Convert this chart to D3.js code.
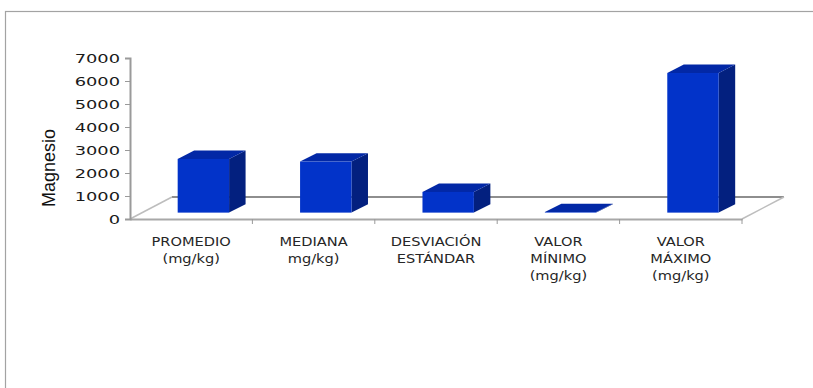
<!DOCTYPE html>
<html>
<head>
<meta charset="utf-8">
<script src="https://cdn.jsdelivr.net/npm/d3@7"></script>
<style>
  html, body { margin: 0; padding: 0; background: #fff; }
  svg { display: block; }
</style>
</head>
<body>
<svg id="chart" width="813" height="388"></svg>
<script>
// Magnesium summary statistics (mg/kg)
const categories = [
  "PROMEDIO\n(mg/kg)",
  "MEDIANA\nmg/kg)",
  "DESVIACIÓN\nESTÁNDAR",
  "VALOR\nMÍNIMO\n(mg/kg)",
  "VALOR\nMÁXIMO\n(mg/kg)"
];
const values = [2335, 2220, 900, 25, 6070];
const yTicks = [0, 1000, 2000, 3000, 4000, 5000, 6000, 7000];
const yTitle = "Magnesio";

const svg = d3.select("#chart");

// outer frame
svg.append("rect")
  .attr("x", 5.5).attr("y", 11.5)
  .attr("width", 840).attr("height", 400)
  .attr("fill", "none").attr("stroke", "#a3a3a3").attr("stroke-width", 1.2);

// plot geometry (oblique 3D projection)
const plotLeft = 130, plotRight = 742, plotBase = 219, plotTop = 58;
const floorDepth = [42, -22];   // front edge -> back edge of floor
const barFront = 0.29;          // bars sit at this fraction of floor depth
const barDepth = [16.5, -8.4];  // bar thickness vector

const y = d3.scaleLinear().domain([0, 7000]).range([plotBase, plotTop]);
const xCat = d3.scaleBand().domain(categories).range([plotLeft, plotRight]);
const x = d3.scaleBand().domain(categories).range([plotLeft, plotRight])
  .paddingInner(0.58).paddingOuter(0.29);

const g = svg.append("g");

// floor
const floorCol = "#a8a8a8";
g.append("line")
  .attr("x1", plotLeft + floorDepth[0]).attr("y1", plotBase + floorDepth[1])
  .attr("x2", plotRight + floorDepth[0]).attr("y2", plotBase + floorDepth[1])
  .attr("stroke", "#8e8e8e").attr("stroke-width", 2);
g.append("line")
  .attr("x1", plotLeft).attr("y1", plotBase)
  .attr("x2", plotLeft + floorDepth[0]).attr("y2", plotBase + floorDepth[1])
  .attr("stroke", "#bdbdbd").attr("stroke-width", 1.5);
g.append("line")
  .attr("x1", plotRight).attr("y1", plotBase)
  .attr("x2", plotRight + floorDepth[0]).attr("y2", plotBase + floorDepth[1])
  .attr("stroke", "#bdbdbd").attr("stroke-width", 1.5);

// category axis (front edge of floor)
const xAxis = d3.axisBottom(xCat).tickSize(0).tickFormat("");
g.append("g").attr("transform", `translate(0,${plotBase})`).call(xAxis)
  .call(s => s.select(".domain").attr("stroke", floorCol).attr("stroke-width", 2));
const bounds = categories.slice(1).map(c => xCat(c)).concat([plotRight]);
g.selectAll(".ctick").data(bounds).join("line")
  .attr("class", "ctick")
  .attr("x1", d => d).attr("x2", d => d)
  .attr("y1", plotBase).attr("y2", plotBase + 5)
  .attr("stroke", "#9a9a9a").attr("stroke-width", 1);

// category labels
const labels = g.selectAll(".clab").data(categories).join("g")
  .attr("class", "clab")
  .attr("transform", d => `translate(${xCat(d) + xCat.bandwidth() / 2},0)`);
labels.each(function (d) {
  const lines = d.split("\n");
  d3.select(this).selectAll("text").data(lines).join("text")
    .attr("transform", (l, i) => `translate(0,${246 + i * 17}) scale(1.16,1)`)
    .attr("text-anchor", "middle")
    .attr("font-family", "DejaVu Sans")
    .attr("font-size", 12.6)
    .attr("fill", "#262626")
    .text(l => l);
});

// bars
const fx = floorDepth[0] * barFront, fy = floorDepth[1] * barFront;
const bw = x.bandwidth();
const bars = g.selectAll(".bar").data(categories.map((c, i) => ({ c, v: values[i] })))
  .join("g").attr("class", "bar");
bars.each(function (d) {
  const x0 = x(d.c) + fx, x1 = x0 + bw;
  const yb = y(0) + fy, yt = y(d.v) + fy;
  const [dx, dy] = barDepth;
  const s = d3.select(this);
  s.append("polygon")
    .attr("points", [[x1, yb], [x1, yt], [x1 + dx, yt + dy], [x1 + dx, yb + dy]].join(" "))
    .attr("fill", "#03207f");
  s.append("polygon")
    .attr("points", [[x0, yt], [x1, yt], [x1 + dx, yt + dy], [x0 + dx, yt + dy]].join(" "))
    .attr("fill", "#0228a6");
  s.append("rect")
    .attr("x", x0).attr("y", yt)
    .attr("width", bw).attr("height", yb - yt)
    .attr("fill", "#0233c9");
});

// value axis
const yAxis = d3.axisLeft(y).tickValues(yTicks).tickSize(5).tickFormat(d3.format("d"));
const ya = g.append("g").attr("transform", `translate(${plotLeft},0)`).call(yAxis);
ya.select(".domain").attr("stroke", "#9a9a9a").attr("stroke-width", 2);
ya.selectAll(".tick line").attr("stroke", "#9a9a9a");
ya.selectAll(".tick text")
  .attr("x", 0).attr("dy", "0.36em")
  .attr("transform", "translate(-10,0) scale(1.45,1)")
  .attr("font-family", "DejaVu Sans")
  .attr("font-size", 12.3)
  .attr("fill", "#1a1a1a");

// axis title
svg.append("text")
  .attr("transform", "translate(55,168) rotate(-90)")
  .attr("text-anchor", "middle")
  .attr("font-family", "Liberation Sans")
  .attr("font-size", 18)
  .attr("fill", "#111")
  .text(yTitle);
</script>
</body>
</html>
